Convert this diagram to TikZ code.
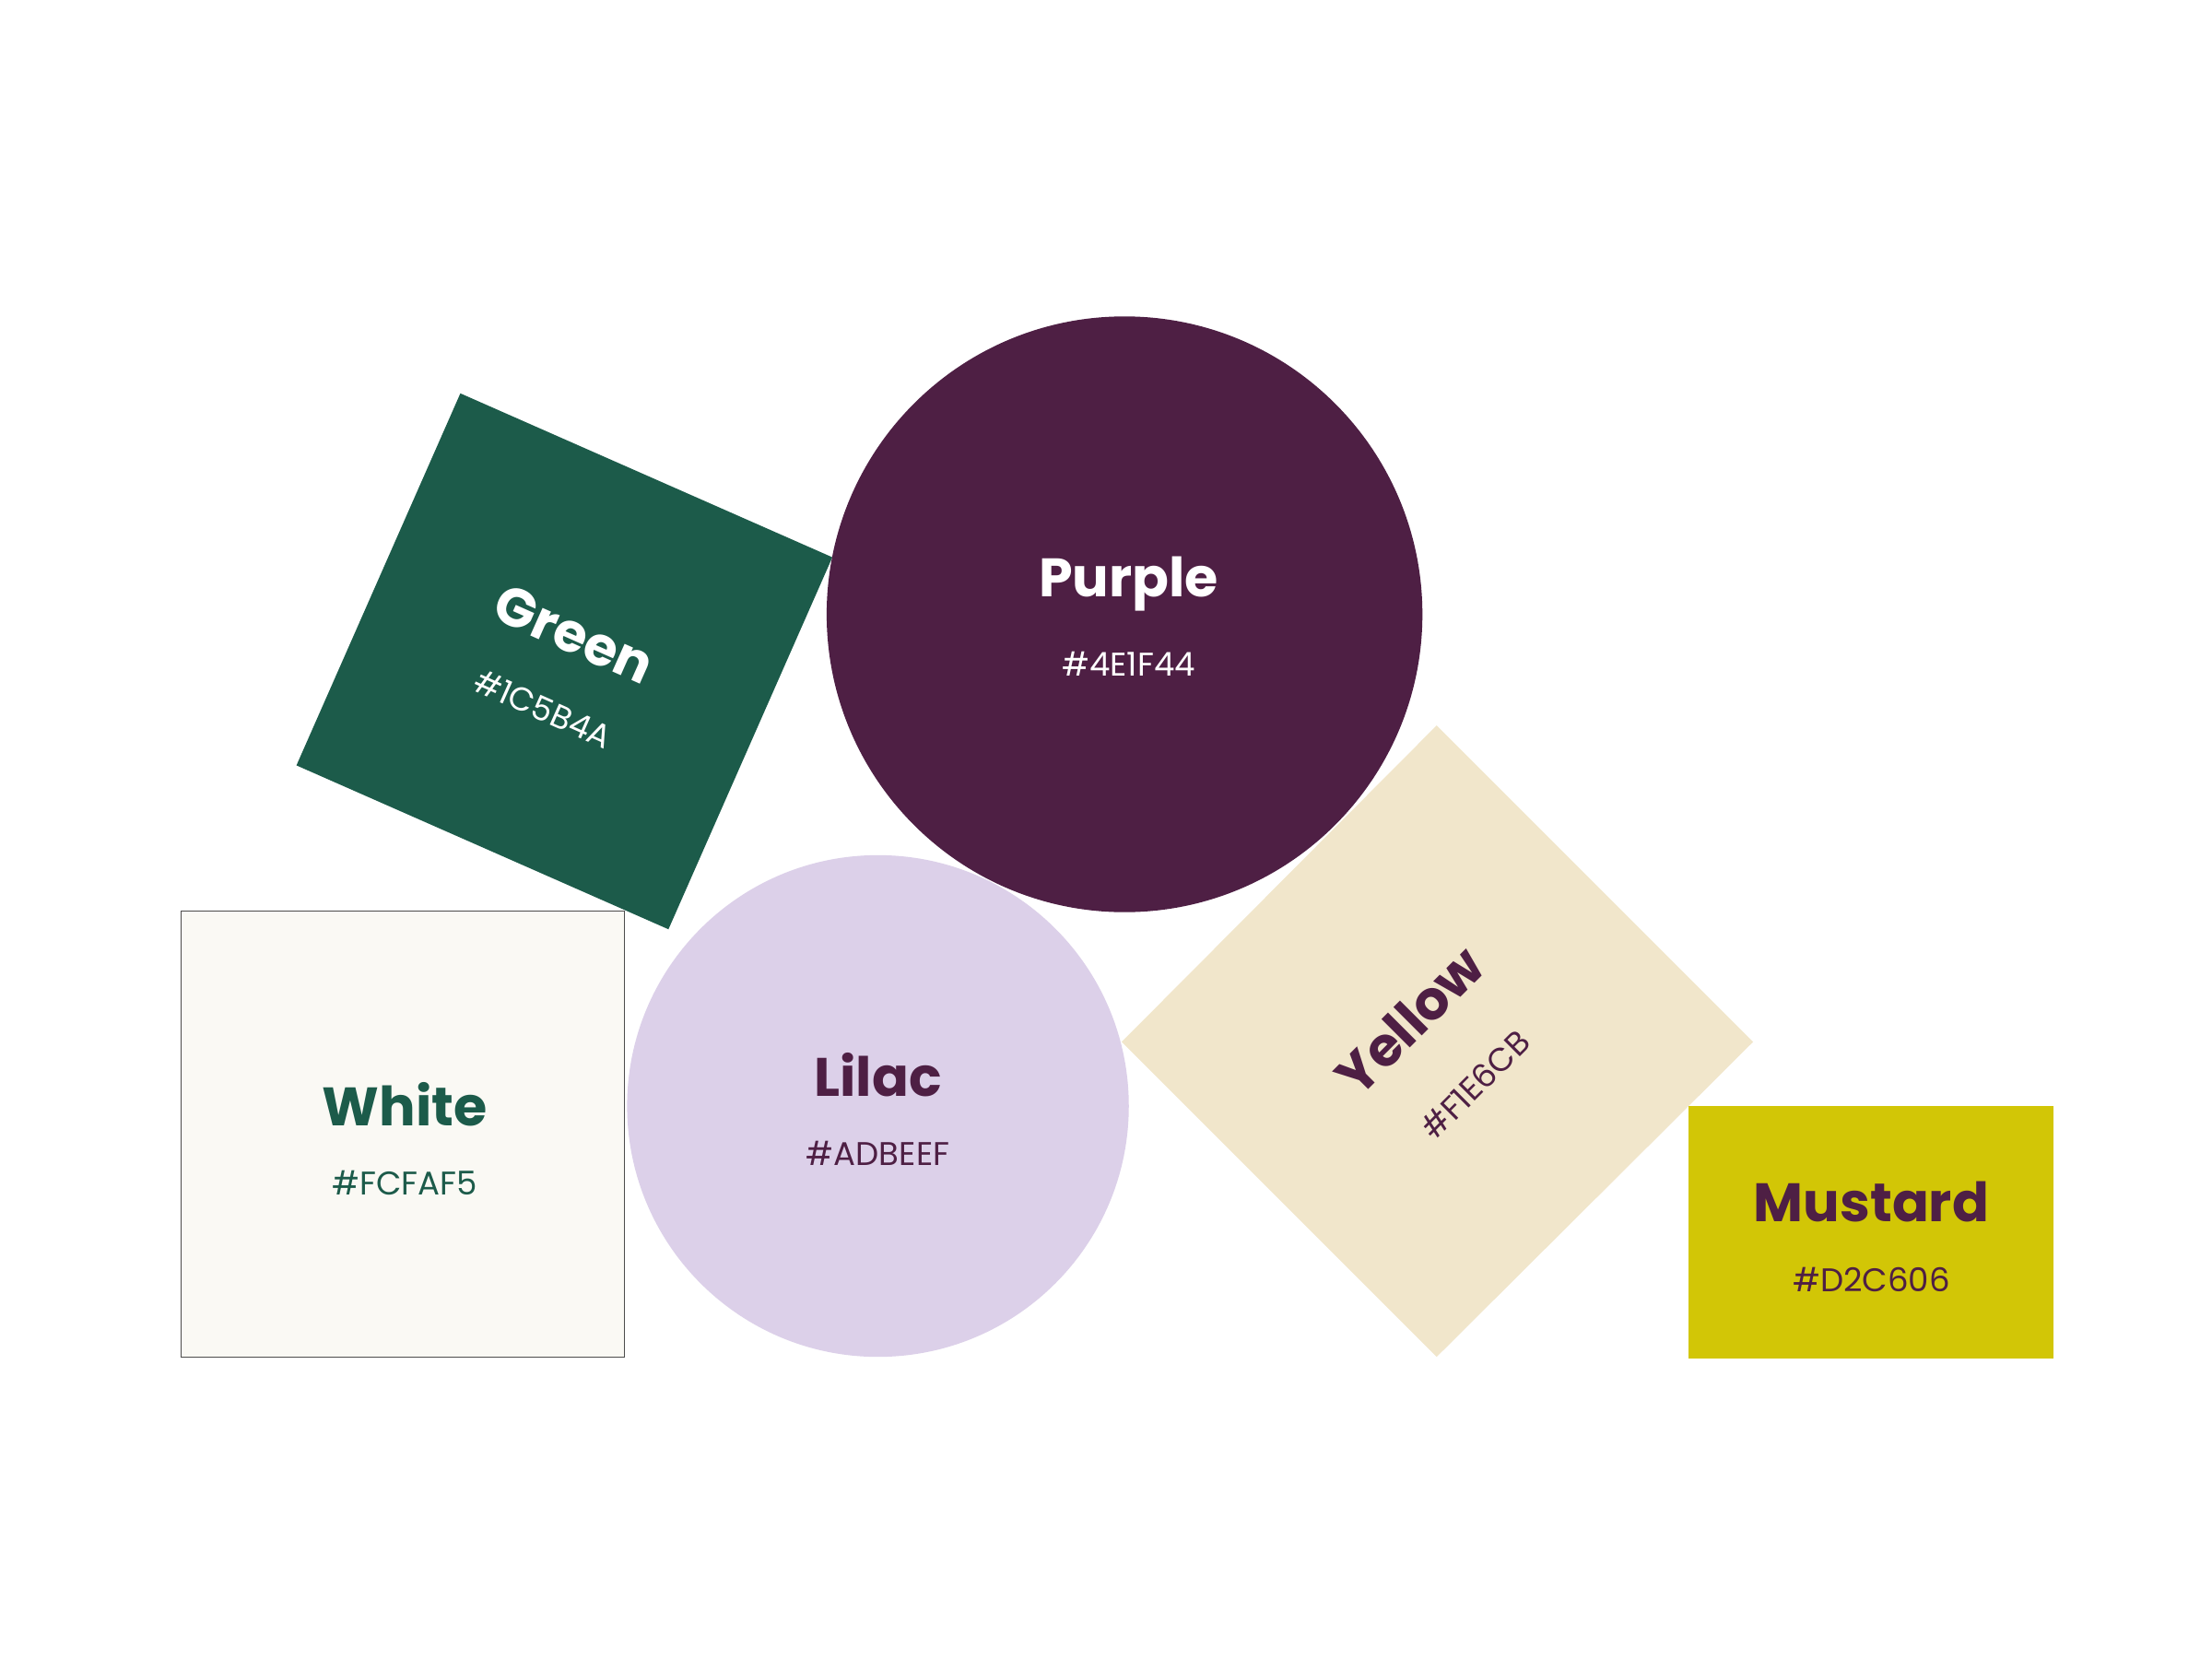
\documentclass[tikz,border=0pt]{standalone}
\usepackage{fontspec}
\setmainfont{Poppins}
\definecolor{cgreen}{HTML}{1C5B4A}
\definecolor{cpurple}{HTML}{4E1F44}
\definecolor{clilac}{HTML}{DCD0E9}
\definecolor{cwhite}{HTML}{FAF9F4}
\definecolor{cyellow}{HTML}{F1E6CB}
\definecolor{cmustard}{HTML}{D2C606}
\tikzset{title/.style={font=\fontsize{38}{42}\selectfont\bfseries,inner sep=0pt},
hex/.style={font=\fontsize{23}{26}\selectfont,inner sep=0pt}}
\begin{document}
\begin{tikzpicture}[x=1pt,y=-1pt]
\useasboundingbox[fill=white] (0,0) rectangle (1552,1164);
\fill[cgreen] (323,276) -- (584,391) -- (469,652) -- (208,537) -- cycle;
\fill[clilac] (616,776) circle (176);
\fill[cyellow] (1008,509) -- (1230,731) -- (1008,952) -- (787,731) -- cycle;
\fill[cpurple] (789,431) circle (209);
\filldraw[fill=cwhite,draw=black!70,line width=0.6pt] (127,639) rectangle (438,952);
\fill[cmustard] (1185,776) rectangle (1441,953);
\node[title,white,rotate=-24] (gt) at (403,445) {Green};
\node[hex,white,rotate=-24] (gh) at (381,497) {\#1C5B4A};
\node[title,white] (pt) at (792,410) {Purple};
\node[hex,white] (ph) at (792,466) {\#4E1F44};
\node[title,cgreen] (wt) at (284,775) {White};
\node[hex,cgreen] (wh) at (284,830) {\#FCFAF5};
\node[title,cpurple] (lt) at (616,754) {Lilac};
\node[hex,cpurple] (lh) at (616,809) {\#ADBEEF};
\node[title,cpurple,rotate=45] (yt) at (989,716) {Yellow};
\node[hex,cpurple,rotate=45] (yh) at (1035,761) {\#F1E6CB};
\node[title,cpurple] (mt) at (1313,843) {Mustard};
\node[hex,cpurple] (mh) at (1313,898) {\#D2C606};
\end{tikzpicture}
\end{document}
